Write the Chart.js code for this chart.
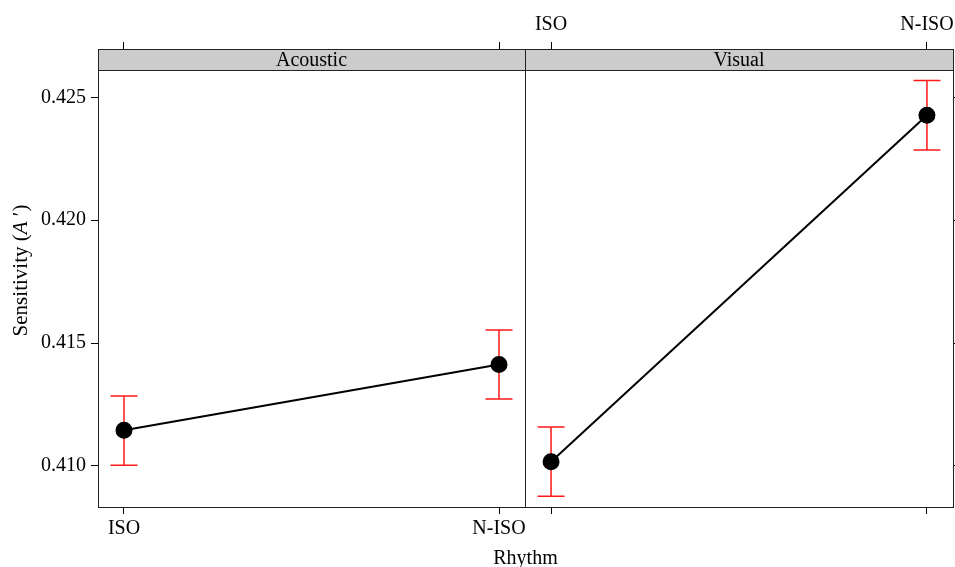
<!DOCTYPE html>
<html><head><meta charset="utf-8">
<script src="https://cdn.jsdelivr.net/npm/chart.js@4.4.0/dist/chart.umd.min.js"></script>
<style>
html,body{margin:0;padding:0;background:#fff;width:955px;height:567px;overflow:hidden;position:relative;}
canvas{position:absolute;top:0;}
#rhythm{position:absolute;left:0;width:1051px;top:546px;text-align:center;font:20px "Liberation Serif",serif;color:#000;}
</style></head>
<body>
<canvas id="c1" width="560" height="567" style="left:0"></canvas>
<canvas id="c2" width="465" height="567" style="left:490px"></canvas>
<div id="rhythm">Rhythm</div>
<script>
const categories = ['ISO', 'N-ISO'];
const panels = ['Acoustic', 'Visual'];
const acousticMean  = [0.41145, 0.41413];
const acousticLower = [0.41003, 0.41272];
const acousticUpper = [0.41285, 0.41553];
const visualMean  = [0.41017, 0.42427];
const visualLower = [0.40877, 0.42285];
const visualUpper = [0.41158, 0.42568];
const yTicks = [0.410, 0.415, 0.420, 0.425];
const yMin = 0.40833, yMax = 0.42611;

const FONT = '"Liberation Serif", serif';
Chart.defaults.font.family = FONT;
Chart.defaults.font.size = 20;
Chart.defaults.color = '#000';

function zeroPad(s) { s.paddingLeft = 0; s.paddingRight = 0; s.paddingTop = 0; s.paddingBottom = 0; }

function makeChart(id, panelIdx, mean, lower, upper, isLeft) {
  const decor = {
    id: 'decor' + panelIdx,
    beforeDatasetsDraw(chart) {
      const ctx = chart.ctx, xs = chart.scales.x, ys = chart.scales.y;
      ctx.save();
      ctx.strokeStyle = 'rgb(255,25,25)';
      ctx.lineWidth = 1.5;
      for (let i = 0; i < mean.length; i++) {
        const px = xs.getPixelForValue(i);
        const y1 = ys.getPixelForValue(lower[i]);
        const y2 = ys.getPixelForValue(upper[i]);
        ctx.beginPath();
        ctx.moveTo(px, y1); ctx.lineTo(px, y2);
        ctx.moveTo(px - 13.5, y1); ctx.lineTo(px + 13.5, y1);
        ctx.moveTo(px - 13.5, y2); ctx.lineTo(px + 13.5, y2);
        ctx.stroke();
      }
      ctx.restore();
    },
    afterDraw(chart) {
      const ctx = chart.ctx, a = chart.chartArea;
      ctx.save();
      const sh = 21;
      ctx.fillStyle = '#cccccc';
      ctx.fillRect(a.left, a.top - sh, a.right - a.left, sh);
      ctx.strokeStyle = '#222';
      ctx.lineWidth = 1;
      ctx.strokeRect(a.left + 0.5, a.top - sh + 0.5, a.right - a.left, sh);
      ctx.fillStyle = '#000';
      ctx.font = '20px ' + FONT;
      ctx.textAlign = 'center';
      ctx.textBaseline = 'middle';
      ctx.fillText(panels[panelIdx], (a.left + a.right) / 2, a.top - sh / 2 + 1);
      ctx.strokeRect(a.left + 0.5, a.top + 0.5, a.right - a.left, a.bottom - a.top);
      if (isLeft) {
        ctx.translate(21, (a.top + a.bottom) / 2 - 18);
        ctx.rotate(-Math.PI / 2);
        const p1 = 'Sensitivity (', p2 = 'A', p3 = ' \u2032)';
        const fs = '21px ';
        ctx.font = fs + FONT;
        const w1 = ctx.measureText(p1).width;
        const w3 = ctx.measureText(p3).width;
        ctx.font = 'italic ' + fs + FONT;
        const w2 = ctx.measureText(p2).width;
        let x = -(w1 + w2 + w3) / 2;
        ctx.textAlign = 'left';
        ctx.font = fs + FONT;
        ctx.fillText(p1, x, 0); x += w1;
        ctx.font = 'italic ' + fs + FONT;
        ctx.fillText(p2, x, 0); x += w2;
        ctx.font = fs + FONT;
        ctx.fillText(p3, x, 0);
      }
      ctx.restore();
    }
  };
  const catTicks = s => { s.ticks = categories.map((c, i) => ({ value: i })); };
  return new Chart(document.getElementById(id), {
    type: 'line',
    data: {
      datasets: [{
        data: mean.map((v, i) => ({ x: i, y: v })),
        borderColor: '#000', borderWidth: 2,
        pointBackgroundColor: '#000', pointBorderColor: '#000',
        pointRadius: 7.5, pointHoverRadius: 7.5, tension: 0,
        xAxisID: 'x', yAxisID: 'y'
      }]
    },
    options: {
      responsive: false, animation: false,
      layout: { autoPadding: false, padding: { left: isLeft ? 0 : 35, right: isLeft ? 35 : 0, top: 0, bottom: 0 } },
      plugins: { legend: { display: false }, tooltip: { enabled: false } },
      scales: {
        x: {
          type: 'linear', position: 'bottom', min: -0.0693, max: 1.0693,
          afterBuildTicks: catTicks,
          afterFit: s => { s.height = 60; zeroPad(s); },
          border: { display: false },
          grid: { drawOnChartArea: false, drawTicks: true, tickLength: 7, color: '#000' },
          ticks: { display: isLeft, padding: 3, maxRotation: 0, autoSkip: false,
                   callback: v => categories[v] }
        },
        x2: {
          type: 'linear', position: 'top', min: -0.0693, max: 1.0693,
          afterBuildTicks: catTicks,
          afterFit: s => { s.height = 70; zeroPad(s); },
          border: { display: false },
          grid: { drawOnChartArea: false, drawTicks: true, tickLength: 28, color: '#000' },
          ticks: { display: !isLeft, padding: 5, maxRotation: 0, autoSkip: false,
                   callback: v => categories[v] }
        },
        y: {
          type: 'linear', position: isLeft ? 'left' : 'right', min: yMin, max: yMax,
          afterBuildTicks: s => { s.ticks = yTicks.map(v => ({ value: v })); },
          afterFit: s => { s.width = isLeft ? 98 : 2; zeroPad(s); },
          border: { display: false },
          grid: { drawOnChartArea: false, drawTicks: true, tickLength: 7, color: '#000' },
          ticks: { display: isLeft, padding: 5, callback: v => v.toFixed(3) }
        }
      }
    },
    plugins: [decor]
  });
}
makeChart('c1', 0, acousticMean, acousticLower, acousticUpper, true);
makeChart('c2', 1, visualMean, visualLower, visualUpper, false);
</script>
</body></html>
